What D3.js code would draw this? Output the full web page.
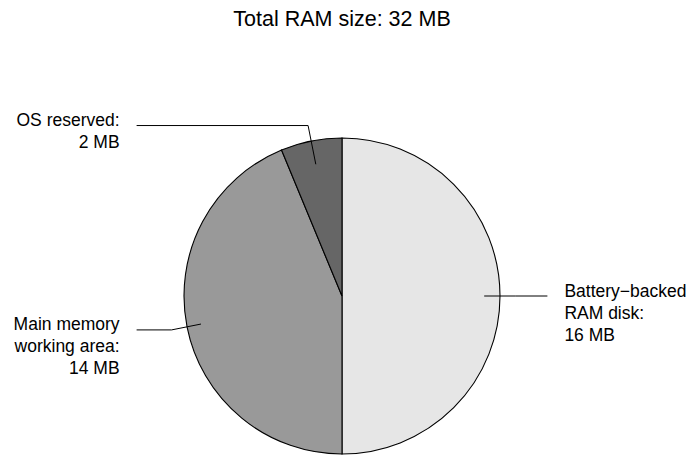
<!DOCTYPE html>
<html>
<head>
<meta charset="utf-8">
<script src="https://cdn.jsdelivr.net/npm/d3@7"></script>
<style>
  html, body { margin: 0; padding: 0; background: #fff; }
  svg { display: block; font-family: "Liberation Sans", Arial, Helvetica, sans-serif; }
</style>
</head>
<body>
<svg id="chart" width="689" height="456"></svg>
<script>
// RAM allocation (MB), drawn clockwise from 12 o'clock
const categories = ["Battery\u2212backed\nRAM disk:", "Main memory\nworking area:", "OS reserved:"];
const sizesMB = [16, 14, 2];
const sliceColors = ["#e6e6e6", "#999999", "#666666"];
const titleText = "Total RAM size: 32 MB";

const width = 689, height = 456;
const cx = 342, cy = 296, radius = 158;

const svg = d3.select("#chart");

svg.append("text")
  .attr("x", cx)
  .attr("y", 26)
  .attr("text-anchor", "middle")
  .style("font-size", "21.5px")
  .attr("fill", "#000")
  .text(titleText);

const pie = d3.pie().sort(null).startAngle(0).endAngle(2 * Math.PI);
const arcs = pie(sizesMB);
const arc = d3.arc().innerRadius(0).outerRadius(radius);

const g = svg.append("g").attr("transform", `translate(${cx},${cy})`);

g.selectAll("path.slice")
  .data(arcs)
  .join("path")
  .attr("class", "slice")
  .attr("d", arc)
  .attr("fill", (d, i) => sliceColors[i])
  .attr("stroke", "#000")
  .attr("stroke-width", 1.1);

// leader lines: from inside the slice, out past the rim, then horizontal
const innerFrac = [0.9, 0.91, 0.85];
const kneeFrac = 1.1, endFrac = 1.3;
const polar = (a, r) => [Math.sin(a) * r, -Math.cos(a) * r];

arcs.forEach((d, i) => {
  const a = (d.startAngle + d.endAngle) / 2;
  const p0 = polar(a, radius * innerFrac[i]);
  const p1 = polar(a, radius * kneeFrac);
  const right = Math.sin(a) > 0;
  const xEnd = (right ? 1 : -1) * radius * endFrac;
  const p2 = [xEnd, p1[1]];

  g.append("path")
    .attr("d", d3.line()([p0, p1, p2]))
    .attr("fill", "none")
    .attr("stroke", "#000")
    .attr("stroke-width", 1);

  const lines = categories[i].split("\n").concat([sizesMB[i] + " MB"]);
  const t = g.append("text")
    .attr("x", xEnd + (right ? 17 : -17))
    .attr("y", p2[1] + 0.5)
    .attr("text-anchor", right ? "start" : "end")
    .style("font-size", "17.5px")
    .attr("fill", "#000");
  lines.forEach((s, j) => {
    t.append("tspan")
      .attr("x", xEnd + (right ? 17 : -17))
      .attr("dy", j === 0 ? 0 : 22)
      .text(s);
  });
});
</script>
</body>
</html>
